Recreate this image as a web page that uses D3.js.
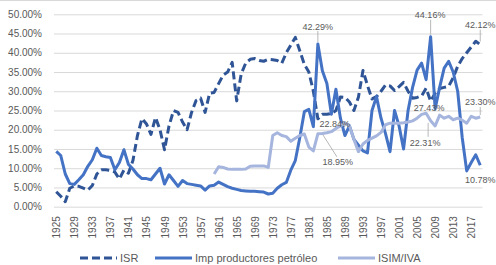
<!DOCTYPE html>
<html>
<head>
<meta charset="utf-8">
<script src="https://cdn.jsdelivr.net/npm/d3@7"></script>
<style>
	body { margin: 0; background: #fff; }
	svg { display: block; font-family: "Liberation Sans", Arial, sans-serif; }
</style>
</head>
<body>
<svg id="chart" width="496" height="265"></svg>
<script>
// Categories: one per year
const years = d3.range(1925, 2020);

// Share of revenue (%) by year
const isr = [
	3.9, 2.7, 1.3, 4.8, 5.4, 5.3, 4.8, 4.3, 5.5, 8.5,
	9.6, 9.6, 9.4, 9.0, 7.2, 9.5, 8.7, 12.0, 18.5, 22.9,
	21.5, 18.8, 23.2, 20.0, 14.8, 21.0, 25.0, 24.5, 22.0, 20.0,
	24.5, 27.6, 28.2, 24.5, 29.5, 29.7, 32.0, 34.2, 35.0, 37.5,
	27.5, 34.5, 37.3, 38.3, 38.5, 38.0, 37.8, 38.3, 38.2, 38.0,
	37.3, 40.0, 42.0, 44.0, 40.5, 37.0, 35.0, 30.0, 22.84, 24.0,
	24.0, 24.2, 25.0, 28.5, 28.4, 27.2, 25.0, 28.5, 35.4, 31.5,
	28.0, 28.6, 30.0, 31.6, 31.4, 30.2, 31.2, 32.3, 30.0, 28.2,
	28.4, 28.8, 30.8, 27.43, 29.5, 30.7, 31.0, 31.3, 33.5, 36.5,
	38.5, 40.0, 41.5, 43.0, 42.12
];

const impPetroleo = [
	14.4, 13.3, 8.5, 6.0, 5.8, 7.0, 8.3, 10.5, 12.2, 15.2,
	13.3, 13.0, 12.8, 9.6, 11.5, 14.8, 11.0, 9.8, 8.3, 7.3,
	7.3, 7.0, 8.5, 10.0, 5.9, 8.3, 6.8, 5.3, 6.8, 6.0,
	5.8, 5.6, 5.4, 4.3, 5.4, 5.6, 6.4, 5.8, 5.2, 4.8,
	4.5, 4.2, 4.1, 4.0, 4.0, 3.9, 3.8, 3.3, 3.5, 4.8,
	5.7, 6.3, 9.5, 12.0, 18.0, 24.7, 25.3, 20.8, 42.29, 35.3,
	32.0, 24.0, 30.5, 23.0, 18.5, 21.0, 17.5, 16.0, 14.5, 14.0,
	25.0, 28.6, 23.0, 19.0, 14.3, 25.0, 21.0, 15.0, 25.0, 31.0,
	35.5, 37.3, 33.0, 44.16, 25.5, 31.0, 36.0, 37.8, 35.0, 30.0,
	18.0, 9.3, 11.5, 13.5, 10.78
];

const isimIva = [
	null, null, null, null, null, null, null, null, null, null,
	null, null, null, null, null, null, null, null, null, null,
	null, null, null, null, null, null, null, null, null, null,
	null, null, null, null, null, 8.5, 10.4, 10.2, 9.8, 9.7,
	9.7, 9.7, 9.8, 10.5, 10.6, 10.6, 10.6, 10.2, 18.5, 19.2,
	18.5, 18.2, 17.0, 17.8, 18.5, 18.9, 15.5, 14.5, 18.95, 19.0,
	19.2, 19.5, 20.3, 21.0, 21.8, 21.0, 17.5, 14.3, 16.3, 17.2,
	17.8, 18.4, 19.3, 21.3, 21.7, 21.7, 21.7, 21.8, 22.0, 22.3,
	23.0, 24.0, 24.3, 22.31, 21.0, 23.8, 23.0, 23.5, 22.6, 23.0,
	22.5, 21.7, 23.5, 23.0, 23.30
];

const seriesNames = ["ISR", "Imp productores petróleo", "ISIM/IVA"];
const yTicks = [0, 0.05, 0.10, 0.15, 0.20, 0.25, 0.30, 0.35, 0.40, 0.45, 0.50];
const xTickYears = years.filter((yr, i) => i % 4 === 0);

// Which points carry a data label (series index, year)
const labelled = [
	[0, 1983], [1, 1983], [2, 1983],
	[0, 2008], [1, 2008], [2, 2008],
	[0, 2019], [1, 2019], [2, 2019]
];

/* -------------------- layout & style -------------------- */

const plotLeft = 54, plotRight = 482.5, plotTop = 14.3, plotBottom = 206.7;
const textColor = "#595959";
const gridColor = "#d9d9d9";
const colors = ["#2f5597", "#4472c4", "#a5b5dd"];
const dashes = ["8,4", null, null];

// label offsets from the point to the label centre, plus leader line
const labelStyle = {
	"0-1983": { dx: 17, dy: 5 },
	"1-1983": { dx: 0, dy: -17, leader: [0, -13, 0, -2] },
	"2-1983": { dx: 20, dy: 28, leader: [19, 23, 5, 1] },
	"0-2008": { dx: -1.5, dy: 7 },
	"1-2008": { dx: -0.5, dy: -22, leader: [0, -17, 0, -2] },
	"2-2008": { dx: -5.5, dy: 22, leader: [-2.5, 16, -2.5, 2] },
	"0-2019": { dx: 0, dy: -20, leader: [0, -15, 0, -3] },
	"1-2019": { dx: 0, dy: 15 },
	"2-2019": { dx: 0, dy: -15, leader: [0, -10, 0, -2] }
};

const svg = d3.select("#chart");

const x = d3.scalePoint().domain(years).range([plotLeft, plotRight]).padding(0.5);
const y = d3.scaleLinear().domain([0, 0.5]).range([plotBottom, plotTop]);

// thin frame line at the very top of the picture
svg.append("line")
	.attr("x1", 0).attr("x2", 496).attr("y1", 0.5).attr("y2", 0.5)
	.attr("stroke", gridColor);

// Y axis with gridlines
const yAxis = svg.append("g")
	.attr("transform", `translate(${plotLeft},0)`)
	.call(d3.axisLeft(y).tickValues(yTicks).tickFormat(d3.format(".2%"))
		.tickSize(-(plotRight - plotLeft)).tickPadding(12));
yAxis.select(".domain").remove();
yAxis.selectAll("line").attr("stroke", gridColor);
yAxis.selectAll("text").attr("fill", textColor).style("font-size", "10px");

// X axis, labels rotated
const xAxis = svg.append("g")
	.attr("transform", `translate(0,${plotBottom})`)
	.call(d3.axisBottom(x).tickValues(xTickYears).tickSize(0));
xAxis.select(".domain").remove();
xAxis.selectAll("text")
	.attr("fill", textColor)
	.style("font-size", "10px")
	.attr("transform", "rotate(-90)")
	.attr("text-anchor", "end")
	.attr("x", -9.5)
	.attr("y", 0)
	.attr("dy", "0.35em");

// Lines
const allSeries = [isr, impPetroleo, isimIva];
const line = d3.line()
	.defined(d => d != null)
	.x((d, i) => x(years[i]))
	.y(d => y(d / 100));

svg.append("g").selectAll("path")
	.data(allSeries)
	.join("path")
	.attr("d", d => line(d))
	.attr("fill", "none")
	.attr("stroke", (d, i) => colors[i])
	.attr("stroke-width", 3)
	.attr("stroke-dasharray", (d, i) => dashes[i])
	.attr("stroke-linejoin", "round");

// Data labels
const labels = svg.append("g").style("font-size", "9px");
labelled.forEach(([s, yr]) => {
	const v = allSeries[s][years.indexOf(yr)];
	const px = x(yr), py = y(v / 100);
	const st = labelStyle[`${s}-${yr}`];
	if (st.leader) {
		labels.append("line")
			.attr("x1", px + st.leader[0]).attr("y1", py + st.leader[1])
			.attr("x2", px + st.leader[2]).attr("y2", py + st.leader[3])
			.attr("stroke", "#a6a6a6").attr("stroke-width", 0.8);
	}
	labels.append("text")
		.attr("x", px + st.dx).attr("y", py + st.dy)
		.attr("dy", "0.35em")
		.attr("text-anchor", "middle")
		.attr("fill", textColor)
		.text(d3.format(".2f")(v) + "%");
});

// Legend
const legendX = [80, 155, 338];
const legend = svg.append("g").attr("transform", "translate(0,258)");
seriesNames.forEach((name, i) => {
	legend.append("line")
		.attr("x1", legendX[i]).attr("x2", legendX[i] + 37)
		.attr("stroke", colors[i]).attr("stroke-width", 3)
		.attr("stroke-dasharray", dashes[i]);
	legend.append("text")
		.attr("x", legendX[i] + 40).attr("dy", "0.35em")
		.attr("fill", textColor).style("font-size", "11px")
		.text(name);
});
</script>
</body>
</html>
